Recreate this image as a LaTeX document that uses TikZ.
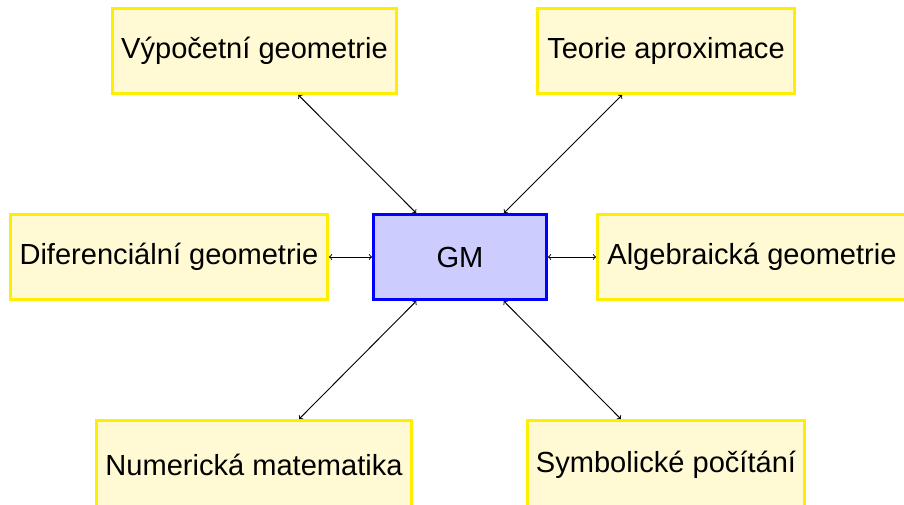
\documentclass[tikz,border=0pt]{standalone}
\usepackage{fontspec}
\setmainfont{Liberation Sans}
\definecolor{boxfill}{RGB}{255,250,212}
\definecolor{boxedge}{RGB}{255,238,0}
\definecolor{gmfill}{RGB}{204,204,255}
\definecolor{gmedge}{RGB}{0,0,255}
\begin{document}
\begin{tikzpicture}[x=0.75pt,y=-0.75pt,
  topic/.style={draw=boxedge,fill=boxfill,line width=2.2pt,inner sep=0pt,
    font=\fontsize{21.8}{26}\selectfont},
  core/.style={draw=gmedge,fill=gmfill,line width=2.2pt,inner sep=0pt,
    font=\fontsize{21.8}{26}\selectfont},
  link/.style={<->,line width=0.7pt,black}]
\useasboundingbox (0,0) rectangle (904,505);
\node[topic,minimum width=284*0.75pt,minimum height=85*0.75pt] (tl) at (254.5,51) {Výpočetní geometrie};
\node[topic,minimum width=257*0.75pt,minimum height=85*0.75pt] (tr) at (666,51) {Teorie aproximace};
\node[topic,minimum width=317*0.75pt,minimum height=85*0.75pt] (dg) at (169,257) {Diferenciální geometrie};
\node[core,minimum width=173*0.75pt,minimum height=85*0.75pt] (gm) at (460,257) {GM};
\node[topic,minimum width=309*0.75pt,minimum height=85*0.75pt] (ag) at (752,257) {Algebraická geometrie};
\node[topic,minimum width=315*0.75pt,minimum height=88*0.75pt] (bl) at (254,464.5) {Numerická matematika};
\node[topic,minimum width=277*0.75pt,minimum height=88*0.75pt] (br) at (666,464.5) {Symbolické počítání};
\draw[link] (tl) -- (gm);
\draw[link] (tr) -- (gm);
\draw[link] (dg) -- (gm);
\draw[link] (ag) -- (gm);
\draw[link] (bl) -- (gm);
\draw[link] (br) -- (gm);
\end{tikzpicture}
\end{document}
